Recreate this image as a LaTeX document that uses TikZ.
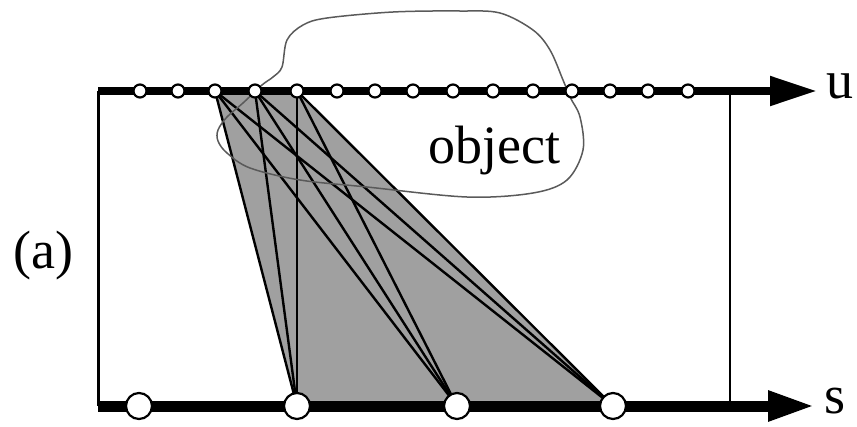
\documentclass[tikz,border=0pt]{standalone}
\usepackage{fontspec}
\setmainfont{Liberation Serif}
\usetikzlibrary{arrows.meta}
\definecolor{fillgrey}{RGB}{160,160,160}
\definecolor{blobgrey}{RGB}{90,90,90}
\tikzset{
  axisline/.style={line width=#1, -{Triangle[length=47pt,width=28pt]}},
  smalldot/.style={circle, draw=black, fill=white, line width=2.2pt, minimum size=13pt, inner sep=0pt},
  bigdot/.style={circle, draw=black, fill=white, line width=2.2pt, minimum size=26pt, inner sep=0pt},
  ray/.style={line width=2.4pt, black},
  frameline/.style={line width=3pt, black},
  bigtext/.style={inner sep=0pt, font=\fontsize{54}{60}\selectfont},
}
\begin{document}
\begin{tikzpicture}[x=1pt, y=-1pt]
\useasboundingbox (0,0) rectangle (857,426);
% coordinates for circles
\foreach \i/\x in {1/140,2/178,3/215,4/255,5/297,6/337,7/375,8/413,9/453,10/493,11/533,12/572,13/610,14/648,15/688}
  \coordinate (t\i) at (\x,91);
\coordinate (b1) at (139,406);
\coordinate (b2) at (297,406);
\coordinate (b3) at (457,406);
\coordinate (b4) at (613,406);
\coordinate (tl) at (98,91);
\coordinate (bl) at (98,406);
\coordinate (tr) at (730,91);
\coordinate (br) at (730,406);
\coordinate (tend) at (817,91);
\coordinate (bend) at (815,406);
% grey region
\fill[fillgrey] (t3) -- (t5) -- (b4) -- (b2) -- cycle;
% rays
\foreach \t in {t3,t4,t5}
  \foreach \b in {b2,b3,b4}
    \draw[ray] (\t) -- (\b);
% frame verticals
\draw[frameline] (tl) -- (bl);
\draw[line width=2.2pt] (tr) -- (br);
% object blob
\draw[blobgrey, line width=1.5pt] plot[smooth cycle, tension=0.55] coordinates {
 (262,85) (243,103) (227,117) (218,130) (218,141) (227,153) (250,168) (300,180) (367,187)
 (467,197) (533,193) (567,180) (583,150) (580,117) (570,97) (563,80) (550,50) (533,30)
 (500,13) (460,11) (393,12) (327,18) (303,25) (287,40) (282,67) (273,77)};
% axes
\draw[axisline=8pt] (tl) -- (tend);
\draw[axisline=11pt] (bl) -- (bend);
% circles
\foreach \i in {1,...,15}
  \node[smalldot] (ct\i) at (t\i) {};
\foreach \i in {1,...,4}
  \node[bigdot] (cb\i) at (b\i) {};
% labels
\node[bigtext, anchor=base west] (obj) at (428,163) {object};
\node[bigtext, anchor=base west] (lu) at (826,98) {u};
\node[bigtext, anchor=base west] (ls) at (824,413) {s};
\node[bigtext, anchor=base west] (la) at (13,268) {(a)};
\end{tikzpicture}
\end{document}
